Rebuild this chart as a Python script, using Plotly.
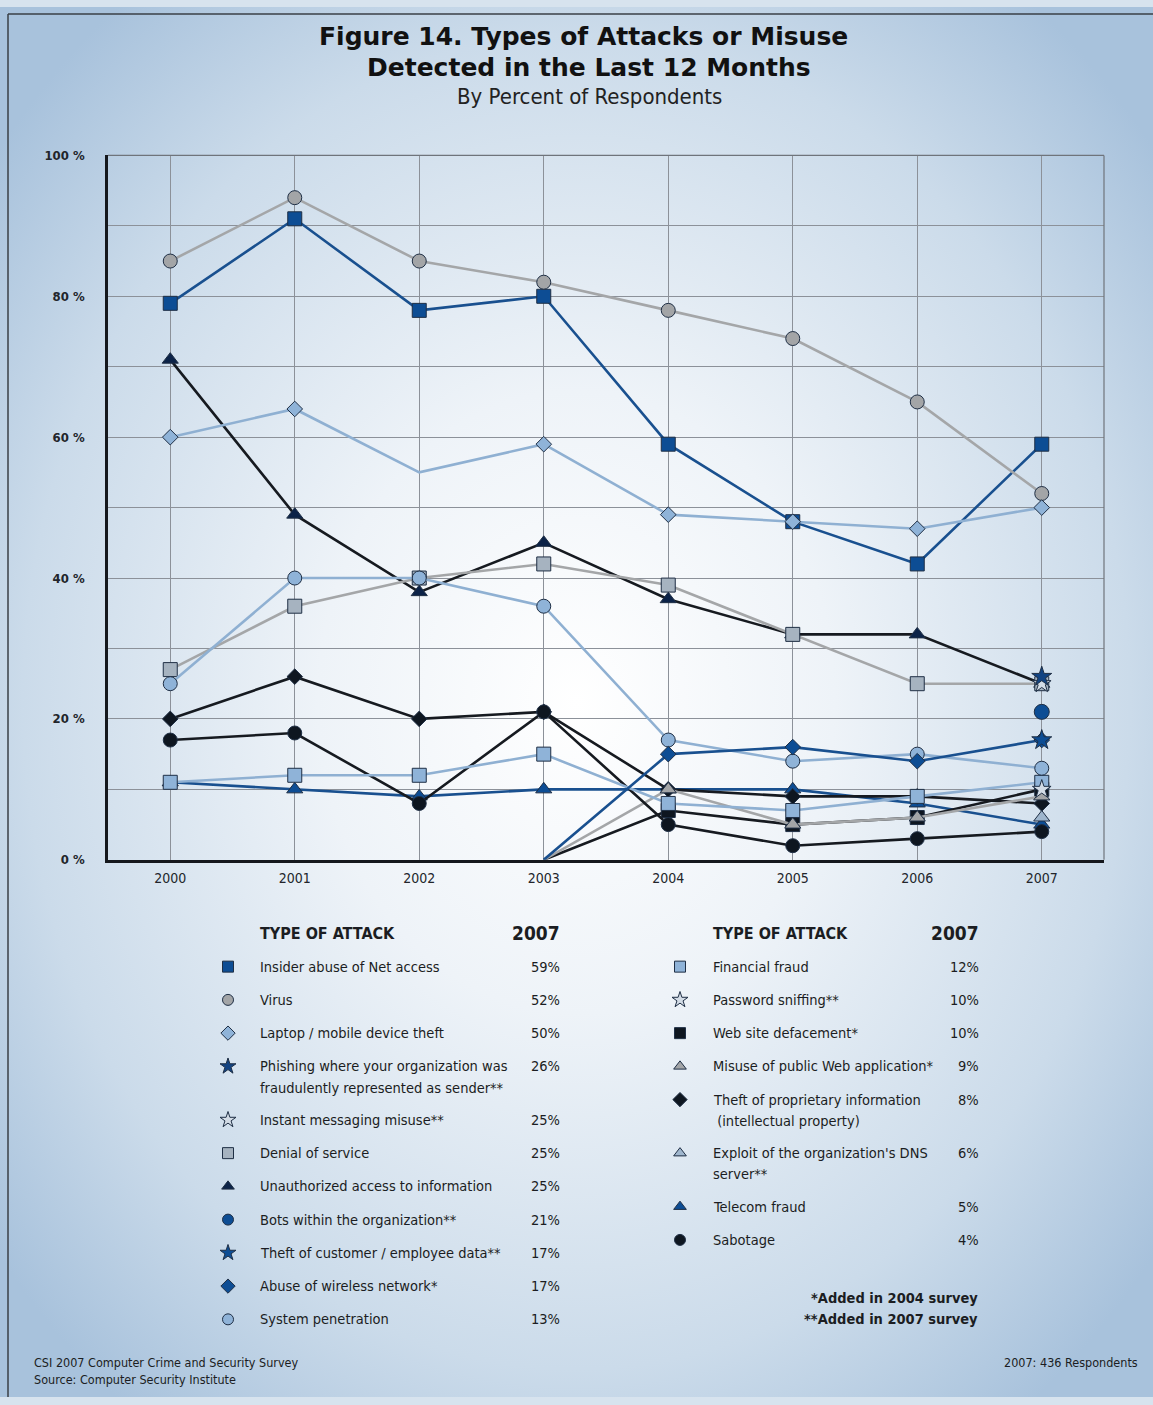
import base64
import plotly.graph_objects as go

W, H = 1153, 1405

# ---------------- data ----------------
years = [2000, 2001, 2002, 2003, 2004, 2005, 2006, 2007]
year_labels = ["2000", "2001", "2002", "2003", "2004", "2005", "2006", "2007"]
y_tick_vals = [0, 20, 40, 60, 80, 100]
y_tick_text = ["0 %", "20 %", "40 %", "60 %", "80 %", "100 %"]

insider = [79, 91, 78, 80, 59, 48, 42, 59]
virus = [85, 94, 85, 82, 78, 74, 65, 52]
laptop = [60, 64, 55, 59, 49, 48, 47, 50]
phishing = [None, None, None, None, None, None, None, 26]
im_misuse = [None, None, None, None, None, None, None, 25]
dos = [27, 36, 40, 42, 39, 32, 25, 25]
unauthorized = [71, 49, 38, 45, 37, 32, 32, 25]
bots = [None, None, None, None, None, None, None, 21]
cust_data = [None, None, None, None, None, None, None, 17]
wireless = [None, None, None, 0, 15, 16, 14, 17]
sys_pen = [25, 40, 40, 36, 17, 14, 15, 13]
fin_fraud = [11, 12, 12, 15, 8, 7, 9, 11]
password = [None, None, None, None, None, None, None, 10]
defacement = [None, None, None, 0, 7, 5, 6, 10]
web_app = [None, None, None, 0, 10, 5, 6, 9]
proprietary = [20, 26, 20, 21, 10, 9, 9, 8]
dns = [None, None, None, None, None, None, None, 6]
telecom = [11, 10, 9, 10, 10, 10, 8, 5]
sabotage = [17, 18, 8, 21, 5, 2, 3, 4]

# points drawn without a marker (line vertex only)
no_marker = {"laptop": [2002]}

left_keys = ["insider", "virus", "laptop", "phishing", "im_misuse", "dos",
             "unauthorized", "bots", "cust_data", "wireless", "sys_pen"]
left_labels = ["Insider abuse of Net access", "Virus", "Laptop / mobile device theft",
               "Phishing where your organization was\nfraudulently represented as sender**",
               "Instant messaging misuse**", "Denial of service",
               "Unauthorized access to information", "Bots within the organization**",
               "Theft of customer / employee data**", "Abuse of wireless network*",
               "System penetration"]
left_pct = ["59%", "52%", "50%", "26%", "25%", "25%", "25%", "21%", "17%", "17%", "13%"]

right_keys = ["fin_fraud", "password", "defacement", "web_app", "proprietary",
              "dns", "telecom", "sabotage"]
right_labels = ["Financial fraud", "Password sniffing**", "Web site defacement*",
                "Misuse of public Web application*",
                "Theft of proprietary information\n\u00a0(intellectual property)",
                "Exploit of the organization's DNS\nserver**", "Telecom fraud", "Sabotage"]
right_pct = ["12%", "10%", "10%", "9%", "8%", "6%", "5%", "4%"]

values = {
    "insider": insider, "virus": virus, "laptop": laptop, "phishing": phishing,
    "im_misuse": im_misuse, "dos": dos, "unauthorized": unauthorized, "bots": bots,
    "cust_data": cust_data, "wireless": wireless, "sys_pen": sys_pen,
    "fin_fraud": fin_fraud, "password": password, "defacement": defacement,
    "web_app": web_app, "proprietary": proprietary, "dns": dns,
    "telecom": telecom, "sabotage": sabotage,
}

# ---------------- styles ----------------
DBLUE = "#0d4d94"
DBLUE_LINE = "#19508f"
NAVY = "#0c2348"
BLACK_LINE = "#161a20"
BLACK_M = "#0e1620"
GRAY_LINE = "#a4a6a8"
GRAY_M = "#a3a5a7"
LBLUE_LINE = "#8fb0d2"
LBLUE_M = "#8fb3d8"
DOS_M = "#a6b3c0"
PALE = "#d3dce6"
EDGE = "#1f2f45"

# key: (line colour or None, symbol, fill, size)
style = {
    "insider": (DBLUE_LINE, "square", DBLUE, 14),
    "virus": (GRAY_LINE, "circle", GRAY_M, 14),
    "laptop": (LBLUE_LINE, "diamond", LBLUE_M, 12),
    "phishing": (None, "star", "#124382", 15),
    "im_misuse": (None, "star", PALE, 14),
    "dos": (GRAY_LINE, "square", DOS_M, 14),
    "unauthorized": (BLACK_LINE, "triangle-up", NAVY, 14),
    "bots": (None, "circle", DBLUE, 15),
    "cust_data": (None, "star", DBLUE, 15),
    "wireless": (DBLUE_LINE, "diamond", DBLUE, 12),
    "sys_pen": (LBLUE_LINE, "circle", LBLUE_M, 14),
    "fin_fraud": (LBLUE_LINE, "square", LBLUE_M, 14),
    "password": (None, "star", PALE, 14),
    "defacement": (BLACK_LINE, "square", BLACK_M, 14),
    "web_app": (GRAY_LINE, "triangle-up", GRAY_M, 14),
    "proprietary": (BLACK_LINE, "diamond", BLACK_M, 12),
    "dns": (None, "triangle-up", "#9fb6cd", 14),
    "telecom": (DBLUE_LINE, "triangle-up", DBLUE, 14),
    "sabotage": (BLACK_LINE, "circle", BLACK_M, 14),
}

draw_order = ["telecom", "proprietary", "defacement", "web_app", "sabotage",
              "unauthorized", "dos", "fin_fraud", "sys_pen", "wireless", "insider",
              "virus", "laptop", "bots", "cust_data", "dns", "im_misuse",
              "phishing", "password"]

fig = go.Figure()

for key in draw_order:
    vals = values[key]
    lc, sym, fill, size = style[key]
    sizes = []
    for yr, v in zip(years, vals):
        if v is None or v == 0 or yr in no_marker.get(key, []):
            sizes.append(0)
        else:
            sizes.append(size)
    fig.add_trace(go.Scatter(
        x=years, y=vals,
        mode="lines+markers" if lc else "markers",
        line=dict(color=lc or fill, width=2.6),
        marker=dict(symbol=sym, color=fill, size=sizes, opacity=1,
                    line=dict(color=EDGE, width=1)),
        connectgaps=False, hoverinfo="skip", xaxis="x", yaxis="y",
    ))

# ---------------- legend (pixel overlay axis) ----------------
NARROW = "Liberation Sans Narrow, DejaVu Sans Condensed, Roboto Condensed, Arial Narrow, Roboto"
TXT = "#1b1d22"
ann = []


def legend_column(keys, labels, pcts, x_sym, x_lab, x_pct, y0):
    y = y0
    xs, ys, syms, fills, sizes = [], [], [], [], []
    for key, lab, pct in zip(keys, labels, pcts):
        lc, sym, fill, size = style[key]
        xs.append(x_sym)
        ys.append(y)
        syms.append(sym)
        fills.append(fill)
        sizes.append(11 if "star" not in sym else 12)
        lines = lab.split("\n")
        for i, ln in enumerate(lines):
            ann.append(dict(x=x_lab, y=y + 21.5 * i, xref="x2", yref="y2", text=ln,
                            showarrow=False, xanchor="left", yanchor="middle",
                            font=dict(family=NARROW, size=14.5, color=TXT)))
        ann.append(dict(x=x_pct, y=y, xref="x2", yref="y2", text=pct, showarrow=False,
                        xanchor="right", yanchor="middle",
                        font=dict(family=NARROW, size=14.5, color=TXT)))
        y += 33.6 + 20.5 * (len(lines) - 1)
    fig.add_trace(go.Scatter(
        x=xs, y=ys, mode="markers", xaxis="x2", yaxis="y2", hoverinfo="skip",
        marker=dict(symbol=syms, color=fills, size=sizes, opacity=1,
                    line=dict(color=EDGE, width=1)),
    ))


legend_column(left_keys, left_labels, left_pct, 228, 258, 562, 970)
legend_column(right_keys, right_labels, right_pct, 680, 711, 981, 970)

for xl, xp in [(258, 562), (711, 981)]:
    ann.append(dict(x=xl, y=936, xref="x2", yref="y2", text="<b>TYPE OF ATTACK</b>",
                    showarrow=False, xanchor="left", yanchor="middle",
                    font=dict(family=NARROW, size=16, color=TXT)))
    ann.append(dict(x=xp, y=936, xref="x2", yref="y2", text="<b>2007</b>",
                    showarrow=False, xanchor="right", yanchor="middle",
                    font=dict(family=NARROW, size=19, color=TXT)))

# titles
TITLE_FONT = dict(family="DejaVu Sans, Lato", size=25, color="#111", weight=800)
ann.append(dict(x=583, y=30, xref="x2", yref="y2",
                text="Figure 14. Types of Attacks or Misuse", showarrow=False,
                xanchor="center", yanchor="middle", font=TITLE_FONT))
ann.append(dict(x=589, y=61, xref="x2", yref="y2",
                text="Detected in the Last 12 Months", showarrow=False,
                xanchor="center", yanchor="middle", font=TITLE_FONT))
ann.append(dict(x=589, y=90, xref="x2", yref="y2",
                text="By Percent of Respondents", showarrow=False,
                xanchor="center", yanchor="middle",
                font=dict(family=NARROW, size=22, color="#222")))

# footnotes and footer
ann.append(dict(x=980, y=1305, xref="x2", yref="y2", text="<b>*Added in 2004 survey</b>",
                showarrow=False, xanchor="right", yanchor="middle",
                font=dict(family=NARROW, size=14.5, color=TXT)))
ann.append(dict(x=980, y=1326, xref="x2", yref="y2", text="<b>**Added in 2007 survey</b>",
                showarrow=False, xanchor="right", yanchor="middle",
                font=dict(family=NARROW, size=14.5, color=TXT)))
ann.append(dict(x=32, y=1370, xref="x2", yref="y2",
                text="CSI 2007 Computer Crime and Security Survey", showarrow=False,
                xanchor="left", yanchor="middle",
                font=dict(family=NARROW, size=12.5, color=TXT)))
ann.append(dict(x=32, y=1387, xref="x2", yref="y2",
                text="Source: Computer Security Institute", showarrow=False,
                xanchor="left", yanchor="middle",
                font=dict(family=NARROW, size=12.5, color=TXT)))
ann.append(dict(x=1140, y=1370, xref="x2", yref="y2", text="2007: 436 Respondents",
                showarrow=False, xanchor="right", yanchor="middle",
                font=dict(family=NARROW, size=12.5, color=TXT)))

# background gradient
svg = (f"<svg xmlns='http://www.w3.org/2000/svg' width='{W}' height='{H}' "
       f"viewBox='0 0 {W} {H}' preserveAspectRatio='none'><defs>"
       "<radialGradient id='g' cx='0.5' cy='0.5' r='0.64'>"
       "<stop offset='0' stop-color='#ffffff'/>"
       "<stop offset='0.35' stop-color='#eef3f8'/>"
       "<stop offset='0.75' stop-color='#cbdbea'/>"
       "<stop offset='1' stop-color='#a8c2dc'/>"
       "</radialGradient></defs>"
       f"<rect width='{W}' height='{H}' fill='url(#g)'/></svg>")
bg = "data:image/svg+xml;base64," + base64.b64encode(svg.encode()).decode()

GRID = "#8c9199"
shapes = [
    # plot frame top / right (thin gray)
    dict(type="line", xref="x domain", yref="y domain", x0=0, x1=1, y0=1, y1=1,
         line=dict(color="#6f747b", width=1.2)),
    dict(type="line", xref="x domain", yref="y domain", x0=1, x1=1, y0=0, y1=1,
         line=dict(color="#6f747b", width=1.2)),
    # page frame (left / top)
    dict(type="line", xref="x2", yref="y2", x0=8, x1=8, y0=7, y1=H,
         line=dict(color="#3a3f46", width=1.5)),
    dict(type="line", xref="x2", yref="y2", x0=8, x1=W, y0=7, y1=7,
         line=dict(color="#3a3f46", width=1.5)),
]

fig.update_layout(
    width=W, height=H, margin=dict(l=0, r=0, t=0, b=0),
    paper_bgcolor="#d7e3ee", plot_bgcolor="rgba(0,0,0,0)",
    showlegend=False, annotations=ann, shapes=shapes,
    images=[dict(source=bg, xref="paper", yref="paper", x=0, y=1, sizex=1, sizey=1,
                 xanchor="left", yanchor="top", sizing="stretch", layer="below")],
    xaxis=dict(domain=[108 / W, 1104 / W], range=[1999.5, 2007.5],
               tickvals=years, ticktext=year_labels, showgrid=True, gridcolor=GRID,
               gridwidth=1, zeroline=False, showline=True, linecolor="#15181d",
               linewidth=2.5, ticks="outside", ticklen=4, tickcolor="rgba(0,0,0,0)",
               anchor="y",
               tickfont=dict(family=NARROW, size=14, color="#22252b")),
    yaxis=dict(domain=[1 - 862 / H, 1 - 150 / H], range=[0, 100],
               tickvals=y_tick_vals, ticktext=y_tick_text, showgrid=True,
               gridcolor=GRID, gridwidth=1, zeroline=False, showline=True,
               linecolor="#15181d", linewidth=2.5, ticks="outside", ticklen=18,
               tickcolor="rgba(0,0,0,0)", anchor="x",
               minor=dict(dtick=10, showgrid=True, gridcolor=GRID, gridwidth=1),
               tickfont=dict(family=NARROW, size=13, color="#22252b", weight="bold")),
    xaxis2=dict(domain=[0, 1], range=[0, W], visible=False, anchor="y2",
                fixedrange=True),
    yaxis2=dict(domain=[0, 1], range=[H, 0], visible=False, anchor="x2",
                fixedrange=True),
)

fig.write_html("out.html")
